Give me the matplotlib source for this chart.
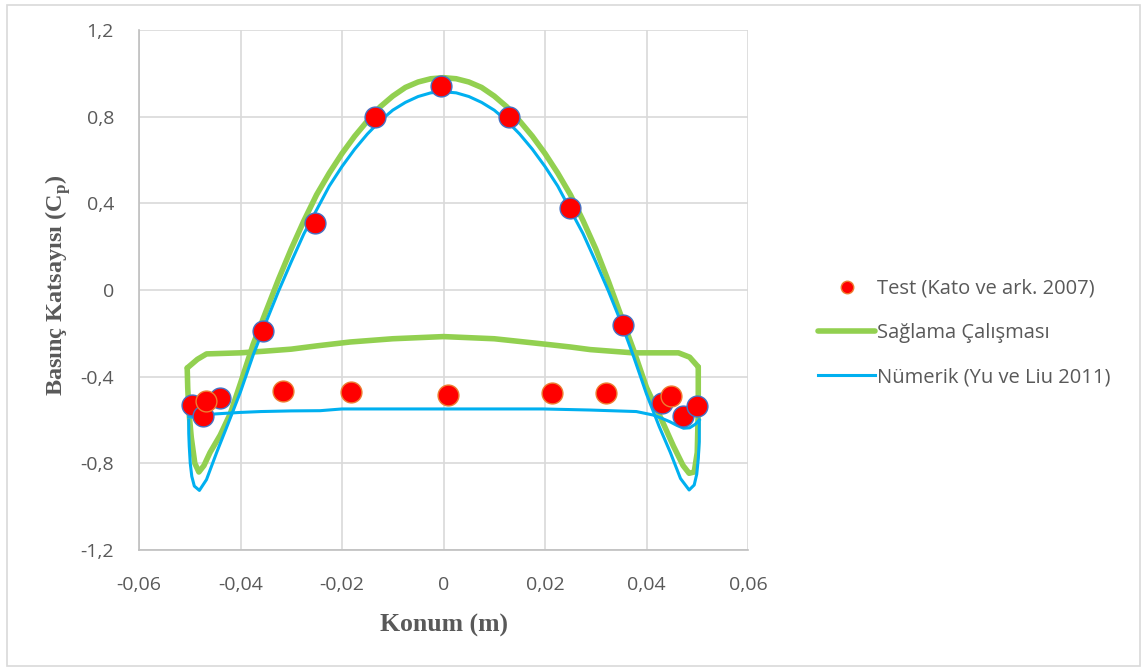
import matplotlib.pyplot as plt
from matplotlib.lines import Line2D
from matplotlib.patches import Rectangle
from matplotlib.ticker import FuncFormatter

# Test (Kato ve ark. 2007) - ust yuzey noktalari (mavi kenarli)
test_ust_x = [-0.0496, -0.0474, -0.0440, -0.0356, -0.0253, -0.0135, -0.0005,
              0.0130, 0.0249, 0.0354, 0.0430, 0.0471, 0.0499]
test_ust_y = [-0.53, -0.58, -0.50, -0.19, 0.31, 0.80, 0.94,
              0.80, 0.38, -0.16, -0.52, -0.58, -0.535]
# alt yuzey noktalari (turuncu kenarli)
test_alt_x = [-0.0467, -0.0316, -0.0182, 0.0008, 0.0214, 0.0320, 0.0448]
test_alt_y = [-0.51, -0.465, -0.469, -0.483, -0.474, -0.477, -0.49]

# Sağlama Çalışması
sag_alt_x = [-0.0505, -0.0485, -0.0467, -0.0400, -0.0356, -0.0300, -0.0250,
             -0.0184, -0.0100, 0.0000, 0.0100, 0.0200, 0.0250, 0.0289,
             0.0373, 0.0463, 0.0485, 0.0502]
sag_alt_y = [-0.36, -0.32, -0.295, -0.29, -0.283, -0.273, -0.258,
             -0.24, -0.225, -0.215, -0.225, -0.25, -0.263, -0.275,
             -0.29, -0.29, -0.31, -0.355]
sag_ust_x = [-0.0505, -0.0504, -0.0502, -0.0497, -0.0490, -0.0482, -0.0472,
             -0.0460, -0.0440, -0.0420, -0.0400, -0.0375, -0.0350, -0.0325,
             -0.0300, -0.0275, -0.0250, -0.0225, -0.0200, -0.0175, -0.0150,
             -0.0125, -0.0100, -0.0075, -0.0050, -0.0025, 0.0000, 0.0025,
             0.0050, 0.0075, 0.0100, 0.0125, 0.0150, 0.0175, 0.0200, 0.0225,
             0.0250, 0.0275, 0.0300, 0.0325, 0.0350, 0.0375, 0.0400, 0.0430,
             0.0453, 0.0472, 0.0484, 0.0494, 0.0500, 0.0502, 0.0502]
sag_ust_y = [-0.36, -0.45, -0.55, -0.68, -0.80, -0.84, -0.81,
             -0.75, -0.67, -0.57, -0.43, -0.25, -0.10, 0.05,
             0.19, 0.32, 0.44, 0.54, 0.63, 0.71, 0.78,
             0.845, 0.895, 0.935, 0.96, 0.975, 0.98, 0.975,
             0.96, 0.935, 0.895, 0.845, 0.78, 0.71, 0.63, 0.54,
             0.44, 0.32, 0.19, 0.04, -0.12, -0.28, -0.45, -0.60,
             -0.72, -0.81, -0.846, -0.84, -0.75, -0.55, -0.355]

# Nümerik (Yu ve Liu 2011)
num_alt_x = [-0.0502, -0.0493, -0.0450, -0.0400, -0.0360, -0.0300, -0.0243,
             -0.0200, 0.0000, 0.0196, 0.0289, 0.0380, 0.0413, 0.0430,
             0.0446, 0.0460, 0.0473, 0.0485, 0.0496, 0.0504]
num_alt_y = [-0.585, -0.587, -0.572, -0.565, -0.561, -0.558, -0.557,
             -0.549, -0.549, -0.549, -0.554, -0.561, -0.577, -0.592,
             -0.608, -0.625, -0.638, -0.636, -0.62, -0.60]
num_ust_x = [-0.0502, -0.0502, -0.0501, -0.0499, -0.0496, -0.0491, -0.0481,
             -0.0467, -0.0447, -0.0425, -0.0400, -0.0375, -0.0350, -0.0325,
             -0.0300, -0.0275, -0.0250, -0.0225, -0.0200, -0.0175, -0.0150,
             -0.0125, -0.0100, -0.0075, -0.0050, -0.0025, 0.0000, 0.0025,
             0.0050, 0.0075, 0.0100, 0.0125, 0.0150, 0.0175, 0.0200, 0.0225,
             0.0250, 0.0275, 0.0300, 0.0325, 0.0350, 0.0375, 0.0400, 0.0425,
             0.0447, 0.0467, 0.0484, 0.0494, 0.0499, 0.0502, 0.0504, 0.0504]
num_ust_y = [-0.60, -0.66, -0.72, -0.80, -0.86, -0.905, -0.925,
             -0.875, -0.75, -0.62, -0.47, -0.30, -0.15, -0.005,
             0.13, 0.26, 0.37, 0.48, 0.57, 0.65, 0.72,
             0.78, 0.83, 0.866, 0.893, 0.91, 0.915, 0.91,
             0.893, 0.866, 0.83, 0.78, 0.72, 0.65, 0.57, 0.48,
             0.37, 0.26, 0.13, -0.005, -0.15, -0.31, -0.48, -0.63,
             -0.75, -0.87, -0.923, -0.90, -0.85, -0.78, -0.70, -0.60]

x_ticks = [-0.06, -0.04, -0.02, 0, 0.02, 0.04, 0.06]
y_ticks = [-1.2, -0.8, -0.4, 0, 0.4, 0.8, 1.2]

yesil = '#92D050'
mavi = '#00B0F0'
gri = '#595959'

plt.rcParams['font.family'] = ['Open Sans', 'DejaVu Sans']

fig = plt.figure(figsize=(11.47, 6.71), dpi=100)
fig.patches.append(Rectangle((7 / 1147, 5 / 671), 1133 / 1147, 661 / 671,
                             transform=fig.transFigure, fill=False,
                             edgecolor='#D9D9D9', linewidth=1.2))
ax = fig.add_axes([139 / 1147, 121 / 671, 609 / 1147, 520 / 671])

ax.plot(sag_alt_x, sag_alt_y, color=yesil, linewidth=4.0,
        solid_joinstyle='round', solid_capstyle='round', zorder=2)
ax.plot(sag_ust_x, sag_ust_y, color=yesil, linewidth=4.0,
        solid_joinstyle='round', solid_capstyle='round', zorder=2)
ax.plot(num_alt_x, num_alt_y, color=mavi, linewidth=2.2,
        solid_joinstyle='round', zorder=3)
ax.plot(num_ust_x, num_ust_y, color=mavi, linewidth=2.2,
        solid_joinstyle='round', zorder=3)
ax.plot(test_ust_x, test_ust_y, linestyle='none', marker='o', markersize=15,
        markerfacecolor='#FF0000', markeredgecolor='#4472C4',
        markeredgewidth=1.0, zorder=4)
ax.plot(test_alt_x, test_alt_y, linestyle='none', marker='o', markersize=15,
        markerfacecolor='#FF0000', markeredgecolor='#ED7D31',
        markeredgewidth=1.0, zorder=5)

ax.set_xlim(-0.06, 0.06)
ax.set_ylim(-1.2, 1.2)
ax.set_xticks(x_ticks)
ax.set_yticks(y_ticks)
fmt = FuncFormatter(lambda v, p: ('%g' % round(v, 3)).replace('.', ','))
ax.xaxis.set_major_formatter(fmt)
ax.yaxis.set_major_formatter(fmt)
ax.tick_params(axis='both', length=0, labelsize=14, labelcolor=gri)
ax.tick_params(axis='x', pad=19)
ax.tick_params(axis='y', pad=18)
ax.grid(True, color='#D9D9D9', linewidth=1.2)
ax.set_axisbelow(True)
for s in ['top', 'right']:
    ax.spines[s].set_visible(False)
for s in ['left', 'bottom']:
    ax.spines[s].set_color('#BFBFBF')
    ax.spines[s].set_linewidth(1.2)

ax.set_xlabel('Konum (m)', family='Liberation Serif', fontweight='bold',
              fontsize=18.5, color=gri, labelpad=14)
ax.set_ylabel('Basınç Katsayısı (C$_\\mathregular{p}$)', family='Liberation Serif',
              fontweight='bold', fontsize=17.5, color=gri, labelpad=10)
ax.yaxis.set_label_coords(-0.108, 0.51)

handles = [
    Line2D([], [], linestyle='none', marker='o', markersize=9,
           markerfacecolor='#FF0000', markeredgecolor='#ED7D31'),
    Line2D([], [], color=yesil, linewidth=4.0, solid_capstyle='round'),
    Line2D([], [], color=mavi, linewidth=2.2),
]
labels = ['Test (Kato ve ark. 2007)', 'Sağlama Çalışması', 'Nümerik (Yu ve Liu 2011)']
fig.legend(handles, labels, loc='center left', bbox_to_anchor=(808 / 1147, 1 - 333 / 671),
           frameon=False, fontsize=14.5, labelcolor=gri, handlelength=2.85,
           handletextpad=0.1, labelspacing=1.2, borderpad=0)

fig.savefig('out.png', dpi=100)
